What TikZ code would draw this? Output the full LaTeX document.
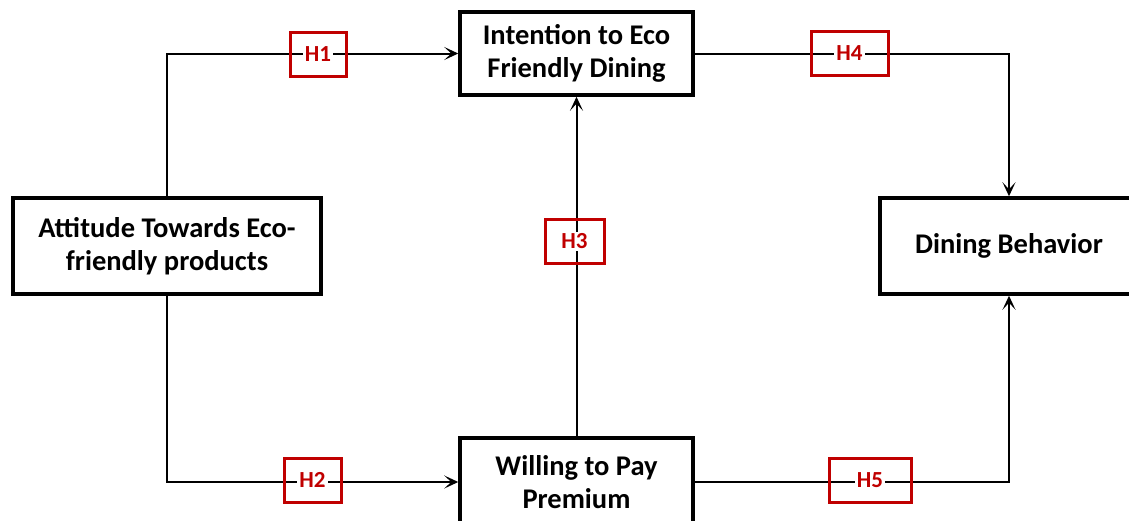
\documentclass[tikz,border=0pt]{standalone}
\usepackage{fontspec}
\setmainfont{Carlito}
\usetikzlibrary{arrows.meta}
\definecolor{hred}{RGB}{192,0,0}
\tikzset{
  box/.style={draw=black, line width=3.5pt, fill=white, align=center, font=\fontsize{28.5}{32.5}\selectfont\bfseries},
  conn/.style={draw=black, line width=2pt},
  arr/.style={conn, -{Stealth[length=14pt, width=13pt, inset=7pt]}},
  hbox/.style={draw=hred, line width=3pt, minimum height=44pt},
  htext/.style={text=hred, fill=white, inner sep=2pt, font=\fontsize{23}{24}\selectfont\bfseries}
}
\begin{document}
\begin{tikzpicture}[x=1pt, y=-1pt]
\useasboundingbox (0,0) rectangle (1129,520);
\begin{scope}
\clip (0,0) rectangle (1129,520);
\node[box, minimum width=233pt, minimum height=83pt] (int) at (576.5,53.5) {Intention to Eco\\Friendly Dining};
\node[box, minimum width=308pt, minimum height=96pt] (att) at (167,246) {Attitude Towards Eco-\\friendly products};
\node[box, minimum width=258pt, minimum height=96pt] (din) at (1009,246) {Dining Behavior};
\node[box, minimum width=233pt, minimum height=88pt] (wil) at (576.5,482) {Willing to Pay\\Premium};
\draw[arr] (att.north) |- (int.west);
\draw[arr] (att.south) |- (wil.west);
\draw[arr] (wil.north) -- (int.south);
\draw[arr] (int.east) -| (din.north);
\draw[arr] (wil.east) -| (din.south);
\node[hbox, minimum width=56pt] (h1) at (318,54) {};
\node[htext] (t1) at (h1) {H1};
\node[hbox, minimum width=57pt] (h2) at (312.5,480) {};
\node[htext] (t2) at (h2) {H2};
\node[hbox, minimum width=59pt] (h3) at (574.5,241.5) {};
\node[htext] (t3) at (h3) {H3};
\node[hbox, minimum width=77pt] (h4) at (849.5,53.5) {};
\node[htext] (t4) at (h4) {H4};
\node[hbox, minimum width=82pt] (h5) at (870,480) {};
\node[htext] (t5) at (h5) {H5};
\end{scope}
\end{tikzpicture}
\end{document}
